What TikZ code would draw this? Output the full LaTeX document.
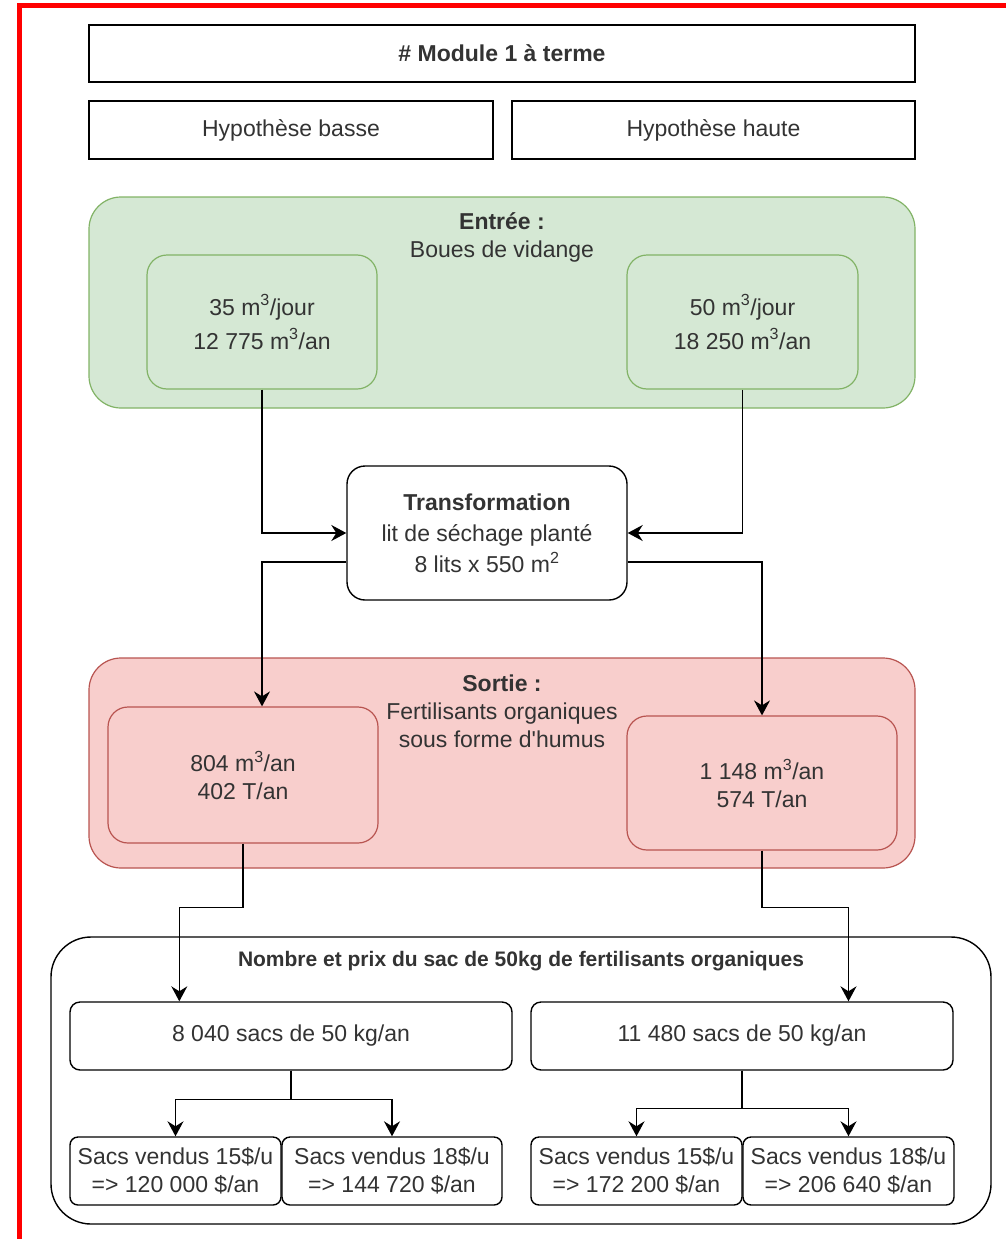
\documentclass[tikz,border=0pt]{standalone}
\usepackage{fontspec}
\setmainfont{Liberation Sans}
\usetikzlibrary{arrows.meta,positioning,calc}
\definecolor{txt}{HTML}{333333}
\definecolor{grfill}{HTML}{D5E8D4}
\definecolor{grline}{HTML}{82B366}
\definecolor{rdfill}{HTML}{F8CECC}
\definecolor{rdline}{HTML}{B85450}
\tikzstyle{box}=[draw=black, line width=1.4pt, fill=white, text=txt, align=center, inner sep=0pt, font=\fontsize{23}{28}\selectfont]
\tikzstyle{rbox}=[box, rounded corners=10pt]
\tikzstyle{grbox}=[box, draw=grline, fill=grfill, line width=1.2pt]
\tikzstyle{rdbox}=[box, draw=rdline, fill=rdfill, line width=1.2pt]
\tikzstyle{lbl}=[text=txt, align=center, inner sep=0pt, font=\fontsize{23}{28}\selectfont]
\tikzstyle{arr}=[line width=1.4pt, -{Stealth[length=15pt,width=16pt,inset=5pt]}]

\begin{document}
\begin{tikzpicture}[x=1pt, y=-1pt]
	\useasboundingbox (0,0) rectangle (1006,1239);
	\draw[red, line width=5.5pt] (19.5,1239) -- (19.5,5.5) -- (1006,5.5);

	\node[box, minimum width=826pt, minimum height=57pt] (module) at (502,53.5) {\textbf{\# Module 1 à terme}};
	\node[box, minimum width=404pt, minimum height=58pt] (basse) at (291,130) {Hypothèse basse};
	\node[box, minimum width=403pt, minimum height=58pt] (haute) at (713.5,130) {Hypothèse haute};

	\node[grbox, rounded corners=32pt, minimum width=826pt, minimum height=211pt] (entree) at (502,302.5) {};
	\node[lbl] (entreeTxt) at (502,237) {\textbf{Entrée :}\\Boues de vidange};
	\node[grbox, rounded corners=20pt, minimum width=230pt, minimum height=134pt] (gL) at (262,322) {35 m\textsuperscript{3}/jour\\[6pt]12 775 m\textsuperscript{3}/an};
	\node[grbox, rounded corners=20pt, minimum width=231pt, minimum height=134pt] (gR) at (742.5,322) {50 m\textsuperscript{3}/jour\\[6pt]18 250 m\textsuperscript{3}/an};

	\node[rbox, rounded corners=18pt, minimum width=280pt, minimum height=134pt] (trans) at (487,533) {\textbf{Transformation}\\[3pt]lit de séchage planté\\[3pt]8 lits x 550 m\textsuperscript{2}};

	\node[rdbox, rounded corners=32pt, minimum width=826pt, minimum height=210pt] (sortie) at (502,763) {};
	\node[lbl] (sortieTxt) at (502,711) {\textbf{Sortie :}\\Fertilisants organiques\\sous forme d\textquotesingle humus};
	\node[rdbox, rounded corners=20pt, minimum width=270pt, minimum height=136pt] (rL) at (243,775) {804 m\textsuperscript{3}/an\\402 T/an};
	\node[rdbox, rounded corners=20pt, minimum width=270pt, minimum height=134pt] (rR) at (762,783) {1 148 m\textsuperscript{3}/an\\574 T/an};

	\node[box, rounded corners=40pt, minimum width=940pt, minimum height=287pt] (prix) at (521,1080.5) {};
	\node[lbl, font=\fontsize{21}{25}\selectfont\bfseries] (prixTxt) at (521,961) {Nombre et prix du sac de 50kg de fertilisants organiques};
	\node[rbox, minimum width=442pt, minimum height=68pt] (sacsB) at (291,1036) {8 040 sacs de 50 kg/an};
	\node[rbox, minimum width=422pt, minimum height=68pt] (sacsH) at (742,1036) {11 480 sacs de 50 kg/an};
	\node[rbox, rounded corners=8pt, minimum width=211pt, minimum height=68pt] (vB15) at (175.5,1171) {Sacs vendus 15\$/u\\=> 120 000 \$/an};
	\node[rbox, rounded corners=8pt, minimum width=220pt, minimum height=68pt] (vB18) at (392,1171) {Sacs vendus 18\$/u\\=> 144 720 \$/an};
	\node[rbox, rounded corners=8pt, minimum width=211pt, minimum height=68pt] (vH15) at (636.5,1171) {Sacs vendus 15\$/u\\=> 172 200 \$/an};
	\node[rbox, rounded corners=8pt, minimum width=211pt, minimum height=68pt] (vH18) at (848.5,1171) {Sacs vendus 18\$/u\\=> 206 640 \$/an};

	\draw[arr] (gL.south) |- (trans.west);
	\draw[arr] (gR.south) |- (trans.east);
	\draw[arr] ($(trans.west)+(0,29)$) -| (gL.south |- rL.north);
	\draw[arr] ($(trans.east)+(0,29)$) -| (rR.north);
	\draw[arr] (rL.south) -- ++(0,64) -| ($(sacsB.north west)+(110,0)$);
	\draw[arr] (rR.south) -- ++(0,57) -| (sacsH.north -| vH18);
	\draw[arr] (sacsB.south) -- ++(0,29) -| (vB15.north);
	\draw[arr] (sacsB.south) -- ++(0,29) -| (vB18.north);
	\draw[arr] (sacsH.south) -- ++(0,38) -| (vH15.north);
	\draw[arr] (sacsH.south) -- ++(0,38) -| (vH18.north);

\end{tikzpicture}
\end{document}
